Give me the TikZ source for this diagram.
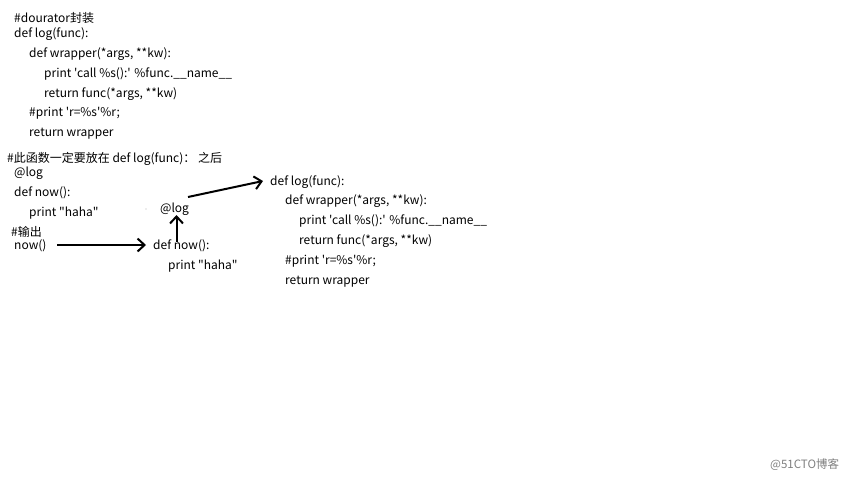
\documentclass[tikz,border=0pt]{standalone}
\usepackage{fontspec}
\newfontfamily\codefont{Noto Sans CJK SC}
\usetikzlibrary{arrows.meta}
\begin{document}
\begin{tikzpicture}[x=1pt,y=-1pt,
  code/.style={anchor=base west,inner sep=0pt,font=\codefont\fontsize{12}{14}\selectfont,text=black},
  arr/.style={line width=2pt,-{Straight Barb[length=7pt,width=13pt,line width=2pt]}}]
\useasboundingbox[fill=white] (0,0) rectangle (849,477);
% block 1
\node[code] (a1) at (14,22) {\#dourator封装};
\node[code] (a2) at (14,37) {def log(func):};
\node[code] (a3) at (29,57) {def wrapper(*args, **kw):};
\node[code] (a4) at (44,77) {print 'call \%s():' \%func.\_\_name\_\_};
\node[code] (a5) at (44,97) {return func(*args, **kw)};
\node[code] (a6) at (29,116) {\#print 'r=\%s'\%r;};
\node[code] (a7) at (29,136) {return wrapper};
% block 2
\node[code] (b0) at (7,162) {\#此函数一定要放在 def log(func)： 之后};
\node[code] (b1) at (14,176) {@log};
\node[code] (b2) at (14,196) {def now():};
\node[code] (b3) at (29,216) {print "haha"};
\node[code] (b4) at (11,236) {\#输出};
\node[code] (b5) at (14,249) {now()};
\fill[gray!60] (146,209) circle (0.6);
\node[code] (c1) at (160,212) {@log};
\node[code] (c2) at (153,249) {def now():};
\node[code] (c3) at (168,269) {print "haha"};
% block 3
\node[code] (d1) at (270,185) {def log(func):};
\node[code] (d2) at (285,204) {def wrapper(*args, **kw):};
\node[code] (d3) at (299,224) {print 'call \%s():' \%func.\_\_name\_\_};
\node[code] (d4) at (299,244) {return func(*args, **kw)};
\node[code] (d5) at (285,264) {\#print 'r=\%s'\%r;};
\node[code] (d6) at (285,284) {return wrapper};
% arrows
\coordinate (s1) at (57,245);
\coordinate (e1) at (146,245);
\draw[arr] (s1) -- (e1);
\coordinate (s2) at (176.5,242);
\coordinate (e2) at (176.5,215);
\draw[arr] (s2) -- (e2);
\coordinate (s3) at (188,197);
\coordinate (e3) at (263,181);
\draw[arr] (s3) -- (e3);
% watermark
\node[anchor=base west,inner sep=0pt,font=\codefont\fontsize{11.5}{13}\selectfont,text=gray] (w) at (770,468.5) {@51CTO博客};
\end{tikzpicture}
\end{document}
